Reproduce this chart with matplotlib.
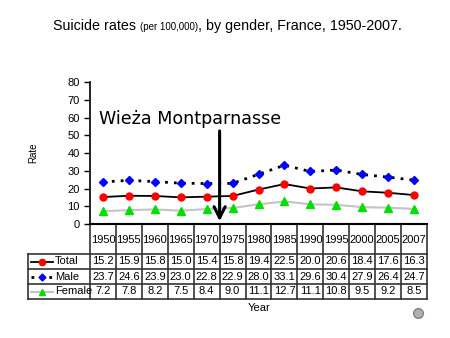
import numpy as np
import matplotlib.pyplot as plt
from matplotlib.lines import Line2D

years = ["1950", "1955", "1960", "1965", "1970", "1975", "1980",
         "1985", "1990", "1995", "2000", "2005", "2007"]
total = [15.2, 15.9, 15.8, 15.0, 15.4, 15.8, 19.4, 22.5, 20.0, 20.6, 18.4, 17.6, 16.3]
male = [23.7, 24.6, 23.9, 23.0, 22.8, 22.9, 28.0, 33.1, 29.6, 30.4, 27.9, 26.4, 24.7]
female = [7.2, 7.8, 8.2, 7.5, 8.4, 9.0, 11.1, 12.7, 11.1, 10.8, 9.5, 9.2, 8.5]
series_names = ["Total", "Male", "Female"]

W, H = 450, 338
fig = plt.figure(figsize=(W / 100, H / 100), dpi=100)
plt.rcParams['font.family'] = ['Liberation Sans', 'DejaVu Sans']

# plot box in pixels
x0, x1, ytop, ybot = 90, 427, 82, 224
ax = fig.add_axes([x0 / W, 1 - ybot / H, (x1 - x0) / W, (ybot - ytop) / H])

n = len(years)
xs = np.arange(n)
styles = [
    dict(color="black", lw=1.3, ls="-", marker="o", mfc="red", mec="red", ms=5),
    dict(color="black", lw=2.0, ls=(0, (1, 2.2)), marker="D", mfc="blue", mec="blue", ms=4),
    dict(color="#c4c4c4", lw=1.5, ls="-", marker="^", mfc="#00e000", mec="#00e000", ms=5.5),
]
for vals, st in zip([total, male, female], styles):
    ax.plot(xs, vals, **st)

ax.set_xlim(-0.5, n - 0.5)
ax.set_ylim(0, 80)
ax.set_yticks(range(0, 81, 10))
ax.tick_params(axis="y", labelsize=8, length=4, width=1)
ax.set_xticks([])
for s in ["top", "right"]:
    ax.spines[s].set_visible(False)
ax.spines["bottom"].set_linewidth(1.5)
ax.spines["left"].set_linewidth(1.2)


def py2ax(py):
    return (ybot - py) / (ybot - ytop)


def px2ax(px):
    return (px - x0) / (x1 - x0)


tcol = "#333333"
kw = dict(transform=ax.transAxes, clip_on=False, color=tcol, lw=1.2)

# table grid
row_y = [224, 254, 269, 284, 299]
for k in range(n + 1):
    xa = k / n
    ax.add_line(Line2D([xa, xa], [py2ax(224), py2ax(299)], **kw))
for py in row_y[1:]:
    ax.add_line(Line2D([px2ax(28), 1], [py2ax(py), py2ax(py)], **kw))
ax.add_line(Line2D([px2ax(28), px2ax(28)], [py2ax(254), py2ax(299)], **kw))

# year header
for i, yr in enumerate(years):
    ax.text((i + 0.5) / n, py2ax(240), yr, transform=ax.transAxes,
            ha="center", va="center", fontsize=8)

# data rows with legend keys
for r, (name, vals, st) in enumerate(zip(series_names, [total, male, female], styles)):
    yc = py2ax((row_y[r + 1] + row_y[r + 2]) / 2)
    for i, v in enumerate(vals):
        ax.text((i + 0.5) / n, yc, f"{v:.1f}", transform=ax.transAxes,
                ha="center", va="center", fontsize=8)
    ax.add_line(Line2D([px2ax(31), px2ax(53)], [yc, yc], transform=ax.transAxes,
                       clip_on=False, color=st["color"], lw=st["lw"], ls=st["ls"]))
    ax.add_line(Line2D([px2ax(42)], [yc], transform=ax.transAxes, clip_on=False,
                       ls="none", marker=st["marker"], mfc=st["mfc"], mec=st["mec"],
                       ms=st["ms"] - 0.5))
    ax.text(px2ax(55), yc, name, transform=ax.transAxes, ha="left", va="center",
            fontsize=8)

# axis titles
fig.text(33 / W, 1 - 153 / H, "Rate", rotation=90, ha="center", va="center", fontsize=7)
fig.text(259 / W, 1 - 308 / H, "Year", ha="center", va="center", fontsize=8)

# annotation with arrow
ax.annotate("", xy=(5 - 0.5, 0), xytext=(5 - 0.5, 54),
            arrowprops=dict(arrowstyle="->,head_length=0.8,head_width=0.4",
                            color="black", lw=2.2), annotation_clip=False)
fig.text(99 / W, 1 - 119 / H, "Wieża Montparnasse", ha="left", va="center",
         fontsize=12.6, family="DejaVu Sans")

# title in three pieces
fig.canvas.draw()
r = fig.canvas.get_renderer()
parts = [("Suicide rates ", 10.3), ("(per 100,000)", 7), (", by gender, France, 1950-2007.", 10.3)]
xpos = 53
for txt, fs in parts:
    t = fig.text(xpos / W, 1 - 30 / H, txt, ha="left", va="baseline", fontsize=fs)
    xpos += t.get_window_extent(r).width

# small emblem
fig.add_artist(Line2D([418 / W], [1 - 313 / H], marker="o", ms=7, mfc="#b0b0b0",
                      mec="#808080", ls="none"))

fig.savefig("out.png", dpi=100)
